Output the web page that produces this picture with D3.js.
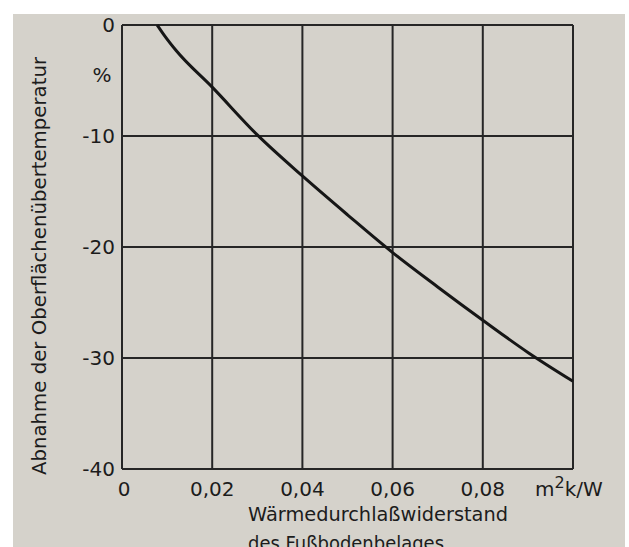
<!DOCTYPE html>
<html lang="de">
<head>
  <meta charset="utf-8">
  <title>Abnahme der Oberflächenübertemperatur</title>
  <script src="https://d3js.org/d3.v7.min.js"></script>
  <style>
    body { margin: 0; background: #fff; }
    svg text { font-family: "DejaVu Sans", sans-serif; fill: #1c1c1c; }
  </style>
</head>
<body>
  <div id="chart"></div>
  <script>
    // chart data
    var xTicks = [0, 0.02, 0.04, 0.06, 0.08];
    var xTickLabels = ["0", "0,02", "0,04", "0,06", "0,08"];
    var yTicks = [0, -10, -20, -30, -40];
    var yTickLabels = ["0", "-10", "-20", "-30", "-40"];
    var curveX = [0.0078, 0.0095, 0.012, 0.02, 0.03, 0.04, 0.05, 0.06, 0.07, 0.08, 0.09, 0.1];
    var curveY = [0, -1.0, -2.3, -5.6, -9.9, -13.6, -17.1, -20.5, -23.6, -26.6, -29.5, -32.1];

    var w = 629;
    var h = 547;
    var plot = { left: 122, right: 573, top: 25, bottom: 469 };

    var svg = d3.select("#chart")
      .append("svg")
      .attr("width", w)
      .attr("height", h);

    // paper background
    svg.append("rect")
      .attr("x", 13).attr("y", 14)
      .attr("width", 612).attr("height", h - 14)
      .attr("fill", "#d5d2cb");

    var x = d3.scaleLinear().domain([0, 0.1]).range([plot.left, plot.right]);
    var y = d3.scaleLinear().domain([-40, 0]).range([plot.bottom, plot.top]);

    // grid
    var grid = svg.append("g")
      .attr("stroke", "#262626")
      .attr("stroke-width", 2);

    grid.selectAll(".vx")
      .data(xTicks.concat([0.1]))
      .enter()
      .append("line")
      .attr("x1", d => x(d)).attr("x2", d => x(d))
      .attr("y1", plot.top).attr("y2", plot.bottom);

    grid.selectAll(".hy")
      .data(yTicks)
      .enter()
      .append("line")
      .attr("x1", plot.left).attr("x2", plot.right)
      .attr("y1", d => y(d)).attr("y2", d => y(d));

    // curve
    var pts = curveX.map((d, i) => [d, curveY[i]]);
    var line = d3.line()
      .x(d => x(d[0]))
      .y(d => y(d[1]))
      .curve(d3.curveMonotoneX);

    svg.append("path")
      .datum(pts)
      .attr("d", line)
      .attr("fill", "none")
      .attr("stroke", "#161616")
      .attr("stroke-width", 3);

    // y tick labels
    svg.selectAll(".ylab")
      .data(yTicks)
      .enter()
      .append("text")
      .attr("x", plot.left - 7)
      .attr("y", d => y(d) + 7)
      .attr("text-anchor", "end")
      .attr("font-size", 20)
      .text((d, i) => yTickLabels[i]);

    svg.append("text")
      .attr("x", 102).attr("y", 82)
      .attr("text-anchor", "middle")
      .attr("font-size", 20)
      .text("%");

    // x tick labels
    svg.selectAll(".xlab")
      .data(xTicks)
      .enter()
      .append("text")
      .attr("x", d => x(d) + (d === 0 ? 2 : 0))
      .attr("y", 496)
      .attr("text-anchor", "middle")
      .attr("font-size", 20)
      .text((d, i) => xTickLabels[i]);

    var unit = svg.append("text")
      .attr("x", 535).attr("y", 496)
      .attr("font-size", 20);
    unit.append("tspan").text("m");
    unit.append("tspan").attr("dy", -8).attr("font-size", 16).text("2");
    unit.append("tspan").attr("dy", 8).text("k/W");

    // axis titles
    svg.append("text")
      .attr("x", 248).attr("y", 521)
      .attr("font-size", 20)
      .attr("textLength", 260)
      .attr("lengthAdjust", "spacingAndGlyphs")
      .text("Wärmedurchlaßwiderstand");

    svg.append("text")
      .attr("x", 248).attr("y", 550)
      .attr("font-size", 20)
      .attr("textLength", 196)
      .attr("lengthAdjust", "spacingAndGlyphs")
      .text("des Fußbodenbelages");

    svg.append("text")
      .attr("transform", "translate(46," + 266 + ") rotate(-90)")
      .attr("text-anchor", "middle")
      .attr("font-size", 19)
      .attr("textLength", 418)
      .attr("lengthAdjust", "spacingAndGlyphs")
      .text("Abnahme der Oberflächenübertemperatur");
  </script>
</body>
</html>
